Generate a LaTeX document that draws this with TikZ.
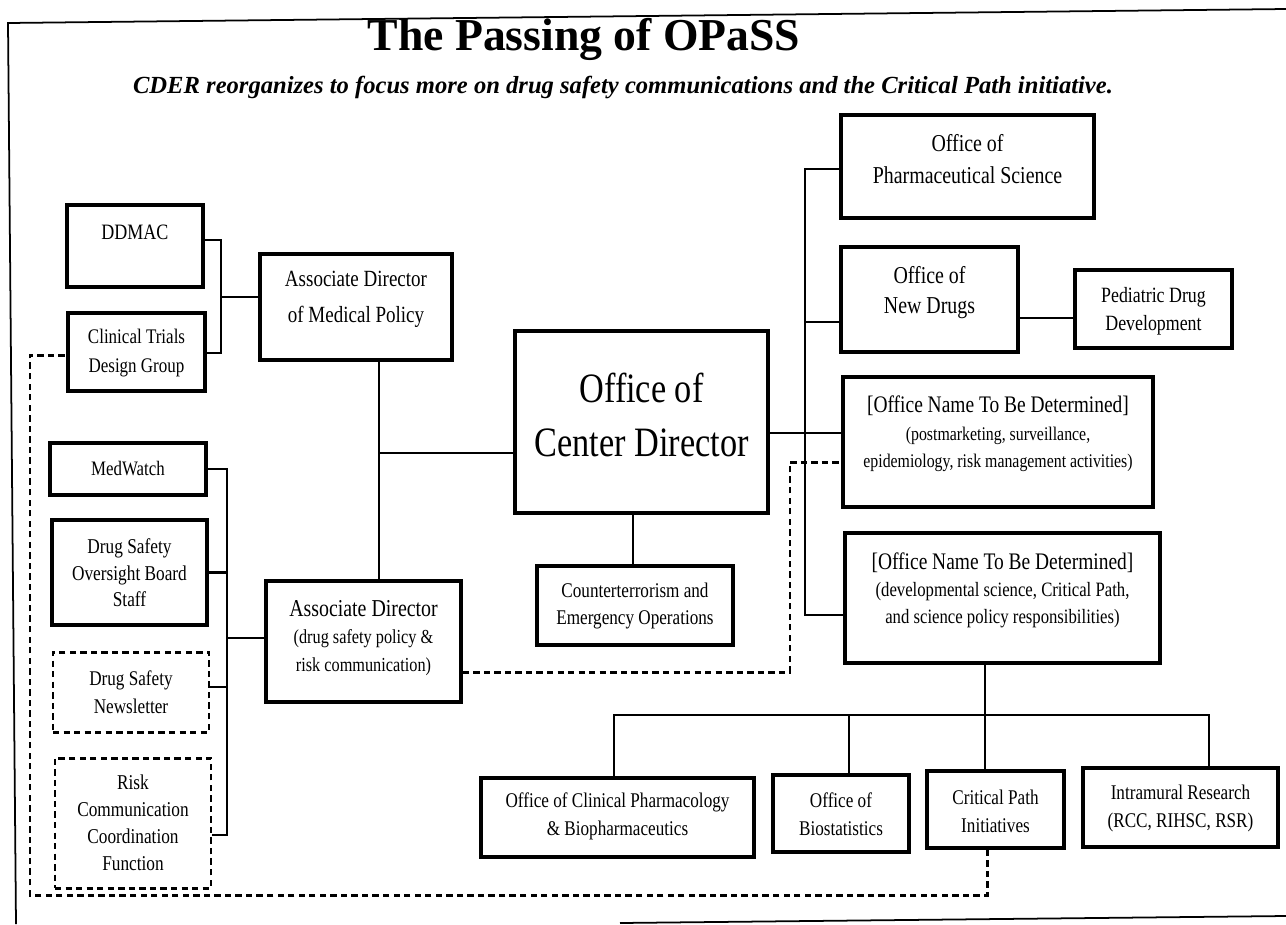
\documentclass[tikz,border=0pt]{standalone}
\usepackage{fontspec}
\setmainfont{Liberation Serif}
\newfontfamily\cf[FakeStretch=0.82]{Liberation Serif}
\newcommand\fs[2]{\cf\fontsize{#1}{#2}\selectfont}
\tikzset{
 box/.style={draw, line width=1.9pt, inner sep=0pt},
 dbox/.style={draw, line width=1.7pt, dash pattern=on 3.6pt off 2.4pt, inner sep=0pt},
 conn/.style={line width=1.6pt},
 dconn/.style={line width=1.7pt, dash pattern=on 3.6pt off 2.4pt},
 lbl/.style={align=center, inner sep=0pt},
 frame/.style={line width=1pt},
}
% name, x1, y1, x2, y2, box style, text y, text options, text
\newcommand\obx[9]{%
 \node[#6, minimum width={(#4-#2)*0.02cm}, minimum height={(#5-#3)*0.02cm}] (#1) at ({(#2+#4)/2},{(#3+#5)/2}) {};
 \node[lbl, #8] (#1-t) at ({(#2+#4)/2},#7) {#9};
}
\begin{document}
\begin{tikzpicture}[x=0.02cm, y=-0.02cm]
\useasboundingbox (0,0) rectangle (1286,924);
% frame
\draw[frame] (1286,9) -- (8,23) -- (16,924);
\draw[frame] (620,923) -- (1286,916);
% titles
\node[font=\bfseries\fontsize{26}{30}\selectfont] (title) at (584,39) {The Passing of OPaSS};
\node[font=\bfseries\itshape\fontsize{14}{17}\selectfont] (sub) at (623,87) {CDER reorganizes to focus more on drug safety communications and the Critical Path initiative.};
% boxes
\obx{ddmac}{67}{205}{203}{287}{box}{232}{font={\fs{12.5}{15}}}{DDMAC}
\obx{ctdg}{68}{313}{205}{391}{box}{353}{font={\fs{11.8}{16.4}}}{Clinical Trials\\Design Group}
\obx{admed}{260}{254}{452}{360}{box}{299}{font={\fs{13.2}{20.4}}}{Associate Director\\of Medical Policy}
\obx{medw}{50}{443}{206}{495}{box}{469}{font={\fs{11.7}{15}}}{MedWatch}
\obx{dsob}{52}{520}{207}{625}{box}{573}{font={\fs{12}{15}}}{Drug Safety\\Oversight Board\\Staff}
\obx{dsn}{53}{652}{209}{732}{dbox}{692}{font={\fs{11.9}{15.9}}}{Drug Safety\\Newsletter}
\obx{rccf}{55}{758}{211}{888}{dbox}{823}{font={\fs{12}{15.3}}}{Risk\\Communication\\Coordination\\Function}
\obx{addrug}{266}{581}{461}{702}{box}{638}{font={\fs{11.3}{15.6}}}{{\fontsize{13.8}{15.6}\selectfont Associate Director}\\(drug safety policy \&\\risk communication)}
\obx{ocd}{515}{331}{768}{513}{box}{415}{font={\fs{23.8}{30.6}}}{Office of\\Center Director}
\obx{ceo}{537}{566}{733}{645}{box}{606}{font={\fs{11.9}{15.9}}}{Counterterrorism and\\Emergency Operations}
\obx{ops}{841}{115}{1094}{218}{box}{159}{font={\fs{13.8}{18.1}}}{Office of\\Pharmaceutical Science}
\obx{ond}{841}{247}{1018}{352}{box}{293}{font={\fs{13.8}{17}}}{Office of\\New Drugs}
\obx{pdd}{1075}{270}{1232}{348}{box}{311}{font={\fs{12.4}{15.9}}}{Pediatric Drug\\Development}
\obx{tbda}{843}{377}{1153}{507}{box}{434}{font={\fs{11}{15.6}}}{{\fontsize{13.5}{15.6}\selectfont [Office Name To Be Determined]}\\(postmarketing, surveillance,\\epidemiology, risk management activities)}
\obx{tbdb}{845}{533}{1160}{663}{box}{590}{font={\fs{11.6}{15.3}}}{{\fontsize{13.5}{15.3}\selectfont [Office Name To Be Determined]}\\(developmental science, Critical Path,\\and science policy responsibilities)}
\obx{ocp}{481}{778}{754}{857}{box}{816}{font={\fs{11.9}{15.9}}}{Office of Clinical Pharmacology\\\& Biopharmaceutics}
\obx{obs}{773}{775}{909}{852}{box}{814}{font={\fs{11.9}{15.9}}}{Office of\\Biostatistics}
\obx{cpi}{927}{771}{1064}{848}{box}{811}{font={\fs{11.9}{15.9}}}{Critical Path\\Initiatives}
\obx{imr}{1083}{768}{1278}{847}{box}{808}{font={\fs{11.9}{15.9}}}{Intramural Research\\(RCC, RIHSC, RSR)}
% left connectors
\coordinate (j1) at (221,297);
\draw[conn] (ddmac.east |- 0,240) -| (j1) |- (ctdg.east |- 0,353);
\draw[conn] (j1) -- (admed.west |- j1);
\coordinate (j2) at (227,638);
\draw[conn] (medw.east) -| (227,835) -- (rccf.east |- 0,835);
\draw[conn] (dsob.east) -- (dsob.east -| j2);
\draw[conn] (dsn.east |- 0,687) -- (227,687);
\draw[conn] (j2) -- (addrug.west |- j2);
\draw[conn] (admed.south -| 379,0) -- (addrug.north -| 379,0);
\draw[conn] (379,453) -- (ocd.west |- 0,453);
% center connectors
\draw[conn] (ocd.south -| 633,0) -- (ceo.north -| 633,0);
\draw[conn] (ocd.east |- 0,433) -- (tbda.west |- 0,433);
% right trunk
\draw[conn] (ops.west |- 0,169) -| (805,615) -- (tbdb.west |- 0,615);
\draw[conn] (805,322) -- (ond.west |- 0,322);
\draw[conn] (ond.east |- 0,318) -- (pdd.west |- 0,318);
% bottom tree
\draw[conn] (tbdb.south -| 985,0) -- (cpi.north -| 985,0);
\draw[conn] (ocp.north -| 614,0) |- (1209,715) -- (imr.north -| 1209,0);
\draw[conn] (849,715) -- (obs.north -| 849,0);
% dashed links
\draw[dconn] (addrug.east |- 0,672) -| (790,462) -- (tbda.west |- 0,462);
\draw[dconn] (cpi.south -| 987,0) |- (30,895) |- (ctdg.west |- 0,355);
\end{tikzpicture}
\end{document}
